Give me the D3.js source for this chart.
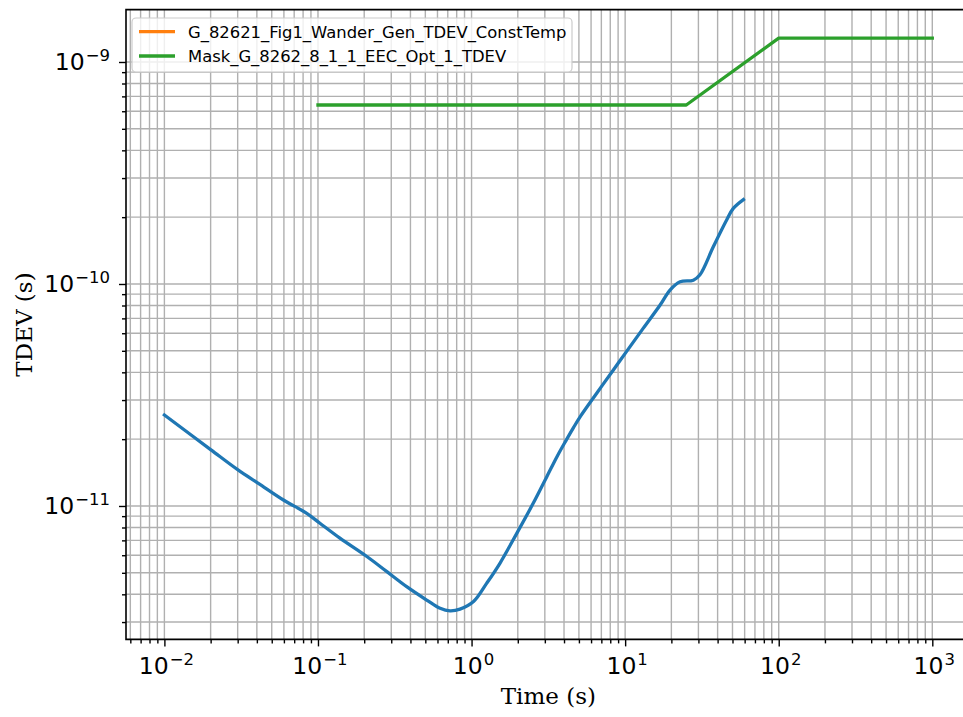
<!DOCTYPE html>
<html><head><meta charset="utf-8">
<script src="https://cdn.jsdelivr.net/npm/d3@7"></script>
<style>body{margin:0;background:#fff;overflow:hidden} svg{display:block}</style>
</head><body>
<script>
// Blue TDEV curve (tau in s, TDEV in s)
const tdevTau = [0.01,0.0201,0.0303,0.0409,0.0596,0.0845,0.103,0.139,0.208,0.281,0.378,0.510,0.624,0.724,0.841,1.03,1.256,1.53,1.97,2.52,3.09,3.62,4.10,4.62,5.09,6.53,8.38,10.2,13.1,16.9,19.6,22.8,27.8,30.7,37.5,45.8,50.6,58.9];
const tdevVal = [2.57e-11,1.79e-11,1.45e-11,1.265e-11,1.064e-11,9.27e-12,8.36e-12,7.16e-12,5.92e-12,5.06e-12,4.33e-12,3.77e-12,3.46e-12,3.37e-12,3.43e-12,3.71e-12,4.49e-12,5.52e-12,7.53e-12,1.028e-11,1.355e-11,1.68e-11,1.96e-11,2.26e-11,2.52e-11,3.22e-11,4.10e-11,4.96e-11,6.31e-11,8.04e-11,9.39e-11,1.023e-10,1.04e-10,1.10e-10,1.47e-10,1.94e-10,2.19e-10,2.40e-10];
// Mask
const maskTau = [0.1, 25, 100, 1000];
const maskVal = [6.4e-10, 6.4e-10, 1.28e-9, 1.28e-9];
// Orange series (in legend only, nothing visible)
const constTempTau = [];
const constTempVal = [];
const legendNames = ["G_82621_Fig1_Wander_Gen_TDEV_ConstTemp", "Mask_G_8262_8_1_1_EEC_Opt_1_TDEV"];
const legendColors = ["#ff7f0e", "#2ca02c"];
const xTickExps = [-2, -1, 0, 1, 2, 3];
const yTickExps = [-11, -10, -9];
const xLabel = "Time (s)";
const yLabel = "TDEV (s)";

const W = 963, H = 717;
const svg = d3.select("body").append("svg").attr("width", W).attr("height", H);
const L = 126, T = 9.6, B = 639.4, R = 970.7;
const x = d3.scaleLog().domain([Math.pow(10, -2.25), Math.pow(10, 3.25)]).range([L, R]);
const y = d3.scaleLog().domain([Math.pow(10, -11.601), Math.pow(10, -8.764)]).range([B, T]);

function minors(scale, e0, e1) {
  const [d0, d1] = scale.domain();
  const out = [];
  for (let e = e0; e <= e1; e++) for (let k = 2; k <= 9; k++) {
    const v = k * Math.pow(10, e);
    if (v >= d0 && v <= d1) out.push(v);
  }
  return out;
}
const xMaj = xTickExps.map(e => Math.pow(10, e));
const yMaj = yTickExps.map(e => Math.pow(10, e));
const xMin = minors(x, -3, 3);
const yMin = minors(y, -12, -9);

svg.append("defs").append("clipPath").attr("id", "clip")
  .append("rect").attr("x", L).attr("y", T).attr("width", R - L).attr("height", B - T);

const grid = svg.append("g").attr("clip-path", "url(#clip)")
  .attr("stroke", "#b0b0b0").attr("stroke-width", 1.4);
grid.selectAll(".gx").data(xMaj.concat(xMin)).join("line")
  .attr("x1", d => x(d)).attr("x2", d => x(d)).attr("y1", T).attr("y2", B);
grid.selectAll(".gy").data(yMaj.concat(yMin)).join("line")
  .attr("y1", d => y(d)).attr("y2", d => y(d)).attr("x1", L).attr("x2", R);

const plot = svg.append("g").attr("clip-path", "url(#clip)");
const line = d3.line().x(d => x(d[0])).y(d => y(d[1]));
const lineSmooth = d3.line().x(d => x(d[0])).y(d => y(d[1])).curve(d3.curveCatmullRom.alpha(0.5));
plot.append("path").datum(tdevTau.map((t, i) => [t, tdevVal[i]]))
  .attr("d", lineSmooth).attr("fill", "none").attr("stroke", "#1f77b4").attr("stroke-width", 3.3)
  .attr("stroke-linejoin", "round").attr("stroke-linecap", "square");
plot.append("path").datum(constTempTau.map((t, i) => [t, constTempVal[i]]))
  .attr("d", line).attr("fill", "none").attr("stroke", "#ff7f0e").attr("stroke-width", 3.3);
plot.append("path").datum(maskTau.map((t, i) => [t, maskVal[i]]))
  .attr("d", line).attr("fill", "none").attr("stroke", "#2ca02c").attr("stroke-width", 3.3)
  .attr("stroke-linejoin", "round").attr("stroke-linecap", "square");

// axes ticks
function tickStyle(g) { g.select(".domain").remove(); g.selectAll("line").attr("stroke", "#000").attr("stroke-width", 1.4); }
svg.append("g").attr("transform", `translate(0,${B})`)
  .call(d3.axisBottom(x).tickValues(xMaj).tickSize(7).tickFormat("")).call(tickStyle);
svg.append("g").attr("transform", `translate(0,${B})`)
  .call(d3.axisBottom(x).tickValues(xMin).tickSize(4).tickFormat("")).call(tickStyle);
svg.append("g").attr("transform", `translate(${L},0)`)
  .call(d3.axisLeft(y).tickValues(yMaj).tickSize(7).tickFormat("")).call(tickStyle);
svg.append("g").attr("transform", `translate(${L},0)`)
  .call(d3.axisLeft(y).tickValues(yMin).tickSize(4).tickFormat("")).call(tickStyle);

// spines
svg.append("path").attr("d", `M${R},${T}H${L}V${B}H${R}`).attr("fill", "none")
  .attr("stroke", "#000").attr("stroke-width", 1.6);

const MAIN = 23.5, SUP = 16.5;
xTickExps.forEach(e => {
  const t = svg.append("text").attr("x", x(Math.pow(10, e)) + 2).attr("y", 674)
    .attr("text-anchor", "middle").attr("font-family", "DejaVu Sans").attr("font-size", MAIN).attr("fill", "#000");
  t.append("tspan").text("10");
  t.append("tspan").attr("font-size", SUP).attr("dy", -9).attr("dx", 1).text(e < 0 ? "\u2212" + (-e) : String(e));
});
yTickExps.forEach(e => {
  const t = svg.append("text").attr("x", 110).attr("y", y(Math.pow(10, e)) + 8.5)
    .attr("text-anchor", "end").attr("font-family", "DejaVu Sans").attr("font-size", MAIN).attr("fill", "#000");
  t.append("tspan").text("10");
  t.append("tspan").attr("font-size", SUP).attr("dy", -9).attr("dx", 1).text(e < 0 ? "\u2212" + (-e) : String(e));
});

svg.append("text").attr("x", (L + R) / 2).attr("y", 704).attr("text-anchor", "middle")
  .attr("font-family", "DejaVu Serif").attr("font-size", 23).text(xLabel);
svg.append("text").attr("transform", `translate(32,${(T + B) / 2}) rotate(-90)`).attr("text-anchor", "middle")
  .attr("font-family", "DejaVu Serif").attr("font-size", 23).text(yLabel);

// legend
const lg = svg.append("g");
lg.append("rect").attr("x", 132).attr("y", 18).attr("width", 440).attr("height", 54).attr("rx", 4)
  .attr("fill", "#fff").attr("fill-opacity", 0.8).attr("stroke", "#cccccc").attr("stroke-width", 1.2);
legendNames.forEach((n, i) => {
  const yy = 31.7 + i * 24.3;
  lg.append("line").attr("x1", 139).attr("x2", 175).attr("y1", yy).attr("y2", yy)
    .attr("stroke", legendColors[i]).attr("stroke-width", 3.3);
  lg.append("text").attr("x", 188).attr("y", yy + 5.8).attr("font-family", "DejaVu Sans")
    .attr("font-size", 16.4).attr("fill", "#000").text(n);
});
</script>
</body></html>
